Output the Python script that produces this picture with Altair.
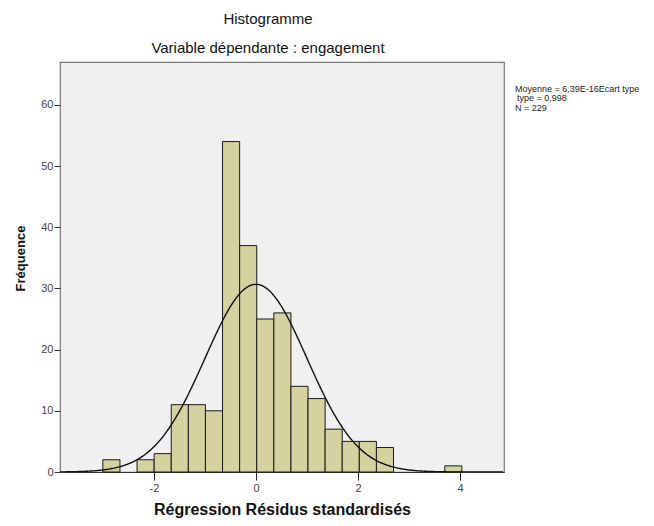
import altair as alt
import pandas as pd

# Standardized regression residuals: SPSS-style histogram with fitted normal curve
bin_start0 = -3.0
bin_width = 0.335
counts = [2, 0, 2, 3, 11, 11, 10, 54, 37, 25, 26, 14, 12, 7, 5, 5, 4, 0, 0, 0, 1]

n_obs = 229
mean_resid = 6.39e-16
sd_resid = 0.998

x_ticks = [-2, 0, 2, 4]
y_ticks = [0, 10, 20, 30, 40, 50, 60]
x_domain = [-3.84, 4.86]
y_domain = [0, 67]

stats_lines = ["Moyenne = 6,39E-16Ecart type", "type = 0,998", "N = 229"]

FONT = "Liberation Sans"

bins = pd.DataFrame({
    "start": [bin_start0 + i * bin_width for i in range(len(counts))],
    "end": [bin_start0 + (i + 1) * bin_width for i in range(len(counts))],
    "count": counts,
})
bins = bins[bins["count"] > 0]

x_scale = alt.Scale(domain=x_domain, nice=False, zero=False)
y_scale = alt.Scale(domain=y_domain, nice=False)

bars = alt.Chart(bins).mark_rect(
    fill="#d6d2a0", stroke="#1a1a1a", strokeWidth=1
).encode(
    x=alt.X("start:Q", scale=x_scale, axis=alt.Axis(
        values=x_ticks, title="Régression Résidus standardisés",
        labelExpr="'' + datum.value",
        grid=False, tickSize=8, tickColor="#222", domainColor="#333",
        labelFont=FONT, labelFontSize=11, labelColor="#444", labelPadding=2,
        titleFont=FONT, titleFontSize=16, titleFontWeight="bold",
        titleColor="#111", titlePadding=8,
    )),
    x2="end:Q",
    y=alt.Y("count:Q", scale=y_scale, axis=alt.Axis(
        values=y_ticks, title="Fréquence", grid=False, domain=False,
        tickSize=6, tickColor="#333",
        labelFont=FONT, labelFontSize=11, labelColor="#444", labelPadding=1,
        titleFont=FONT, titleFontSize=13, titleFontWeight="bold",
        titleColor="#111", titlePadding=13, titleY=196,
    )),
    y2=alt.datum(0),
)

# Normal density scaled to counts per bin
curve = alt.Chart(
    alt.sequence(start=x_domain[0], stop=x_domain[1], step=0.02, as_="x")
).transform_calculate(
    freq=f"{n_obs} * {bin_width} * densityNormal(datum.x, {mean_resid}, {sd_resid})"
).mark_line(color="#111", strokeWidth=1.4, clip=True).encode(
    x=alt.X("x:Q", scale=x_scale),
    y=alt.Y("freq:Q", scale=y_scale),
)

def stat_text(line, x, y):
    return alt.Chart().mark_text(
        text=line, align="left", baseline="middle",
        font=FONT, fontSize=9, color="#222",
    ).encode(x=alt.value(x), y=alt.value(y))

stats = (
    stat_text(stats_lines[0], 455, 26.5)
    + stat_text(stats_lines[1], 457, 36)
    + stat_text(stats_lines[2], 455, 45.5)
)

chart = alt.layer(bars, curve, stats).properties(
    width=444,
    height=410,
    title=alt.TitleParams(
        text="Histogramme",
        subtitle="Variable dépendante : engagement",
        font=FONT, fontSize=15, fontWeight="normal", color="#111",
        subtitleFont=FONT, subtitleFontSize=15, subtitleColor="#111",
        subtitlePadding=14, anchor="middle", dx=-14, offset=6,
    ),
    autosize=alt.AutoSizeParams(type="none"),
    padding={"left": 60, "top": 62, "right": 150, "bottom": 54},
    background="white",
).configure_view(
    fill="#f0f0f0", stroke="#777", strokeWidth=1.2,
)

chart.save("out.html", embed_options={"renderer": "svg", "actions": False})
